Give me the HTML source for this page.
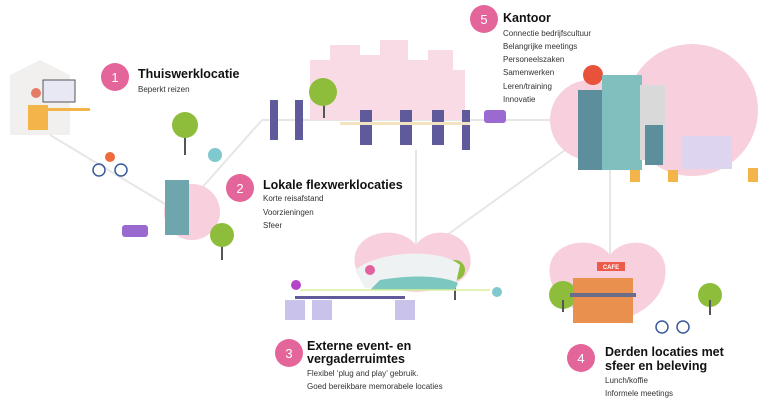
<!DOCTYPE html>
<html><head><meta charset="utf-8"><style>
html,body{margin:0;padding:0;background:#fff;}
svg{display:block;font-family:"Liberation Sans",sans-serif;}
.t{font-weight:bold;font-size:12.5px;fill:#111;}
.s{font-size:8px;fill:#333;}
.n{font-size:13px;fill:#fff;text-anchor:middle;}
</style></head><body>
<svg width="775" height="402" viewBox="0 0 775 402" xmlns="http://www.w3.org/2000/svg">
<!-- connectors -->
<g stroke="#e6e6e6" stroke-width="2" fill="none">
<line x1="50" y1="135" x2="175" y2="210"/>
<line x1="200" y1="190" x2="262" y2="120"/>
<line x1="262" y1="120" x2="560" y2="120"/>
<line x1="416" y1="150" x2="416" y2="245"/>
<line x1="610" y1="160" x2="610" y2="255"/>
<line x1="440" y1="240" x2="565" y2="150"/>
</g>
<!-- pink shapes -->
<g fill="#f7cfdd">
<circle cx="692" cy="110" r="66"/>
<circle cx="590" cy="120" r="40"/>
<circle cx="192" cy="212" r="28"/>
<path d="M416 245 C400 225 360 230 355 255 C350 280 380 290 416 292 C450 290 475 280 470 255 C465 230 430 225 416 245Z"/>
<path d="M610 255 C595 235 555 240 550 265 C545 295 580 320 610 320 C640 320 670 295 665 265 C660 240 625 235 610 255Z"/>
</g>
<!-- skyline -->
<g fill="#f9dbe5">
<rect x="310" y="60" width="25" height="60"/><rect x="330" y="45" width="30" height="75"/>
<rect x="360" y="55" width="22" height="65"/><rect x="380" y="40" width="28" height="80"/>
<rect x="405" y="60" width="25" height="60"/><rect x="428" y="50" width="25" height="70"/>
<rect x="450" y="70" width="15" height="50"/>
</g>
<!-- home -->
<path d="M10 75 L40 60 L70 75 L70 135 L10 135Z" fill="#f2f0ef"/>
<rect x="43" y="80" width="32" height="22" fill="#e8e8f5" stroke="#555" stroke-width="1"/>
<rect x="30" y="108" width="60" height="3" fill="#f3b54a"/>
<path d="M28 105 h20 v25 h-20z" fill="#f3b54a"/>
<circle cx="36" cy="93" r="5" fill="#e47b66"/>
<!-- bike -->
<circle cx="99" cy="170" r="6" fill="none" stroke="#3a5a9a" stroke-width="1.5"/>
<circle cx="121" cy="170" r="6" fill="none" stroke="#3a5a9a" stroke-width="1.5"/>
<circle cx="110" cy="157" r="5" fill="#ef6a3c"/>
<!-- trees -->
<g>
<rect x="184" y="130" width="2" height="25" fill="#555"/><circle cx="185" cy="125" r="13" fill="#8ebd3c"/>
<rect x="221" y="245" width="2" height="15" fill="#555"/><circle cx="222" cy="235" r="12" fill="#8ebd3c"/>
<rect x="323" y="100" width="2" height="18" fill="#555"/><circle cx="323" cy="92" r="14" fill="#8ebd3c"/>
<rect x="454" y="282" width="2" height="18" fill="#555"/><circle cx="455" cy="270" r="10" fill="#8ebd3c"/>
<circle cx="563" cy="295" r="14" fill="#8ebd3c"/><rect x="562" y="300" width="2" height="12" fill="#555"/>
<circle cx="710" cy="295" r="12" fill="#8ebd3c"/><rect x="709" y="300" width="2" height="15" fill="#555"/>
<circle cx="593" cy="75" r="10" fill="#e8523a"/>
</g>
<!-- scooter -->
<circle cx="215" cy="155" r="7" fill="#7fc9cf"/><circle cx="497" cy="292" r="5" fill="#7fc9cf"/>
<!-- flex building -->
<rect x="165" y="180" width="24" height="55" fill="#6fa5ad"/>
<rect x="122" y="225" width="26" height="12" rx="3" fill="#9b6ad1"/>
<rect x="484" y="110" width="22" height="13" rx="3" fill="#9b6ad1"/>
<!-- office people -->
<g fill="#5e5a9c">
<rect x="270" y="100" width="8" height="40"/><rect x="295" y="100" width="8" height="40"/>
<rect x="360" y="110" width="12" height="35"/><rect x="400" y="110" width="12" height="35"/>
<rect x="432" y="110" width="12" height="35"/><rect x="462" y="110" width="8" height="40"/>
</g>
<rect x="340" y="122" width="130" height="3" fill="#f3e3c0"/>
<!-- office buildings -->
<rect x="578" y="90" width="25" height="80" fill="#5d8e9c"/>
<rect x="602" y="75" width="40" height="95" fill="#7fbfbe"/>
<rect x="640" y="85" width="25" height="75" fill="#d9d9d9"/>
<rect x="645" y="125" width="18" height="40" fill="#5d8e9c"/>
<rect x="682" y="136" width="50" height="33" fill="#ddd4ef"/>
<g fill="#f3b54a"><rect x="630" y="170" width="10" height="12"/><rect x="668" y="170" width="10" height="12"/><rect x="748" y="168" width="10" height="14"/></g>
<!-- event venue -->
<path d="M355 270 C380 250 440 248 460 265 L455 288 L365 288Z" fill="#eef2f2"/>
<path d="M380 280 C410 275 440 275 458 283 L455 290 L370 290Z" fill="#7cc7c0"/>
<line x1="300" y1="290" x2="490" y2="290" stroke="#d9ef9a" stroke-width="1.5"/>
<g fill="#c9c2ea"><rect x="285" y="300" width="20" height="20"/><rect x="312" y="300" width="20" height="20"/><rect x="395" y="300" width="20" height="20"/></g>
<rect x="295" y="296" width="110" height="3" fill="#5e5a9c"/>
<circle cx="296" cy="285" r="5" fill="#b445c8"/><circle cx="370" cy="270" r="5" fill="#e2619e"/>
<!-- cafe -->
<rect x="573" y="278" width="60" height="45" fill="#e9904e"/>
<rect x="570" y="293" width="66" height="4" fill="#6b6b8a"/>
<rect x="597" y="262" width="28" height="9" fill="#ec5a49"/>
<text x="611" y="269" font-size="6" fill="#fff" text-anchor="middle" font-weight="bold">CAFE</text>
<circle cx="662" cy="327" r="6" fill="none" stroke="#3a5a9a" stroke-width="1.5"/><circle cx="683" cy="327" r="6" fill="none" stroke="#3a5a9a" stroke-width="1.5"/>
<!-- numbers -->
<g fill="#e4659a">
<circle cx="115" cy="77" r="14"/><circle cx="240" cy="188" r="14"/><circle cx="484" cy="19" r="14"/>
<circle cx="289" cy="353" r="14"/><circle cx="581" cy="358" r="14"/>
</g>
<text class="n" x="115" y="82">1</text><text class="n" x="240" y="193">2</text><text class="n" x="484" y="24">5</text>
<text class="n" x="289" y="358">3</text><text class="n" x="581" y="363">4</text>
<!-- labels -->
<text class="t" x="138" y="78">Thuiswerklocatie</text>
<text class="s" x="138" y="92">Beperkt reizen</text>
<text class="t" x="263" y="189">Lokale flexwerklocaties</text>
<text class="s" x="263" y="201">Korte reisafstand</text>
<text class="s" x="263" y="215">Voorzieningen</text>
<text class="s" x="263" y="228">Sfeer</text>
<text class="t" x="503" y="22">Kantoor</text>
<text class="s" x="503" y="36">Connectie bedrijfscultuur</text>
<text class="s" x="503" y="49">Belangrijke meetings</text>
<text class="s" x="503" y="62">Personeelszaken</text>
<text class="s" x="503" y="75">Samenwerken</text>
<text class="s" x="503" y="89">Leren/training</text>
<text class="s" x="503" y="102">Innovatie</text>
<text class="t" x="307" y="350">Externe event- en</text>
<text class="t" x="307" y="363">vergaderruimtes</text>
<text class="s" x="307" y="376">Flexibel ‘plug and play’ gebruik.</text>
<text class="s" x="307" y="389">Goed bereikbare memorabele locaties</text>
<text class="t" x="605" y="356">Derden locaties met</text>
<text class="t" x="605" y="370">sfeer en beleving</text>
<text class="s" x="605" y="383">Lunch/koffie</text>
<text class="s" x="605" y="396">Informele meetings</text>
</svg>
</body></html>
